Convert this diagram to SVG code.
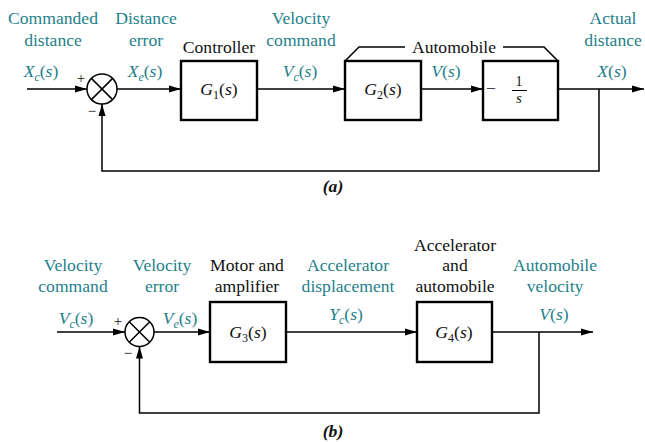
<svg xmlns="http://www.w3.org/2000/svg" width="645" height="442" viewBox="0 0 645 442" font-family="'Liberation Serif', 'DejaVu Serif', 'Times New Roman', serif">
<defs>
<style>
text{font-family:'Liberation Serif','DejaVu Serif','Times New Roman',serif;font-size:17.6px;fill:#111;text-anchor:middle}
.t{fill:#1f7f8c}
.m{font-style:italic}
.sub{font-size:12px;font-style:normal}
.subi{font-size:12px;font-style:italic}
.up{font-style:normal}
.box{fill:#fff;stroke:#000;stroke-width:2.4}
.ln{fill:none;stroke:#000;stroke-width:1.5}
.sum{fill:#fff;stroke:#000;stroke-width:1.5}
.arr{marker-end:url(#ah)}
.cap{font-weight:bold;font-style:italic}
</style>
<marker id="ah" markerWidth="12" markerHeight="8" refX="12" refY="4" orient="auto" markerUnits="userSpaceOnUse"><path d="M0,0.5 L12,4 L0,7.5 z" fill="#000"/></marker>
</defs>
<rect width="645" height="442" fill="#fff"/>

<g id="connectors">
<path class="ln arr" d="M27,89 H87"/>
<path class="ln arr" d="M117,89 H181"/>
<path class="ln arr" d="M257,89 H345"/>
<path class="ln arr" d="M421,89 H483"/>
<path class="ln arr" d="M558,89 H644"/>
<path class="ln arr" d="M599,89 V171 H102 V104"/>
<path class="ln" d="M345,61 L359,47 H405 M503,47 H544 L558,61"/>
<path class="ln arr" d="M57,332 H125"/>
<path class="ln arr" d="M154,332 H210"/>
<path class="ln arr" d="M286,332 H417"/>
<path class="ln arr" d="M492,332 H593"/>
<path class="ln arr" d="M539,332 V413 H139.5 V346.5"/>
</g>

<g id="sum_a">
<circle class="sum" cx="102" cy="89" r="15"/>
<path class="ln" d="M91.4,78.4 L112.6,99.6 M112.6,78.4 L91.4,99.6"/>
<text x="81" y="83" style="font-size:15px">+</text>
<text x="92" y="116" style="font-size:15px">−</text>
</g>
<g id="g1">
<rect class="box" x="181" y="61" width="76" height="59"/>
<text x="219" y="95"><tspan class="m">G</tspan><tspan class="sub" dy="4">1</tspan><tspan dy="-4">(</tspan><tspan class="m">s</tspan>)</text>
<text x="219" y="53">Controller</text>
</g>
<g id="g2">
<rect class="box" x="345" y="61" width="76" height="59"/>
<text x="383" y="95"><tspan class="m">G</tspan><tspan class="sub" dy="4">2</tspan><tspan dy="-4">(</tspan><tspan class="m">s</tspan>)</text>
</g>
<g id="integrator">
<rect class="box" x="483" y="61" width="75" height="59"/>
<text x="491" y="94">−</text>
<text x="519" y="86" style="font-size:14px">1</text>
<path d="M512,90.5 H527" stroke="#000" stroke-width="1"/>
<text x="519" y="103" class="m" style="font-size:15px">s</text>
</g>
<g id="automobile_a">
<text x="454" y="53">Automobile</text>
</g>
<g id="labels_a">
<text class="t" x="53" y="24">Commanded</text>
<text class="t" x="53" y="46">distance</text>
<text class="t" x="146" y="24">Distance</text>
<text class="t" x="146" y="46">error</text>
<text class="t" x="301" y="24">Velocity</text>
<text class="t" x="301" y="46">command</text>
<text class="t" x="613" y="24">Actual</text>
<text class="t" x="613" y="46">distance</text>
<text class="t m" x="41" y="77">X<tspan class="subi" dy="4">c</tspan><tspan class="up" dy="-4">(</tspan>s<tspan class="up">)</tspan></text>
<text class="t m" x="145" y="77">X<tspan class="subi" dy="4">e</tspan><tspan class="up" dy="-4">(</tspan>s<tspan class="up">)</tspan></text>
<text class="t m" x="300" y="77">V<tspan class="subi" dy="4">c</tspan><tspan class="up" dy="-4">(</tspan>s<tspan class="up">)</tspan></text>
<text class="t m" x="446" y="77">V<tspan class="up">(</tspan>s<tspan class="up">)</tspan></text>
<text class="t m" x="612" y="77">X<tspan class="up">(</tspan>s<tspan class="up">)</tspan></text>
<text class="cap" x="333" y="192">(a)</text>
</g>

<g id="sum_b">
<circle class="sum" cx="139.5" cy="332" r="14.5"/>
<path class="ln" d="M129.2,321.7 L149.8,342.3 M149.8,321.7 L129.2,342.3"/>
<text x="118" y="326" style="font-size:15px">+</text>
<text x="128" y="358" style="font-size:15px">−</text>
</g>
<g id="g3">
<rect class="box" x="210" y="302" width="76" height="60"/>
<text x="248" y="338"><tspan class="m">G</tspan><tspan class="sub" dy="4">3</tspan><tspan dy="-4">(</tspan><tspan class="m">s</tspan>)</text>
<text x="247" y="271">Motor and</text>
<text x="247" y="292">amplifier</text>
</g>
<g id="g4">
<rect class="box" x="417" y="302" width="75" height="60"/>
<text x="454" y="338"><tspan class="m">G</tspan><tspan class="sub" dy="4">4</tspan><tspan dy="-4">(</tspan><tspan class="m">s</tspan>)</text>
<text x="455" y="251">Accelerator</text>
<text x="455" y="271">and</text>
<text x="455" y="292">automobile</text>
</g>
<g id="labels_b">
<text class="t" x="73" y="271">Velocity</text>
<text class="t" x="73" y="292">command</text>
<text class="t" x="162" y="271">Velocity</text>
<text class="t" x="162" y="292">error</text>
<text class="t" x="348" y="271">Accelerator</text>
<text class="t" x="348" y="292">displacement</text>
<text class="t" x="555" y="271">Automobile</text>
<text class="t" x="555" y="292">velocity</text>
<text class="t m" x="76" y="324">V<tspan class="subi" dy="4">c</tspan><tspan class="up" dy="-4">(</tspan>s<tspan class="up">)</tspan></text>
<text class="t m" x="180" y="324">V<tspan class="subi" dy="4">e</tspan><tspan class="up" dy="-4">(</tspan>s<tspan class="up">)</tspan></text>
<text class="t m" x="346" y="320">Y<tspan class="subi" dy="4">c</tspan><tspan class="up" dy="-4">(</tspan>s<tspan class="up">)</tspan></text>
<text class="t m" x="554" y="320">V<tspan class="up">(</tspan>s<tspan class="up">)</tspan></text>
<text class="cap" x="333" y="437">(b)</text>
</g>
</svg>
